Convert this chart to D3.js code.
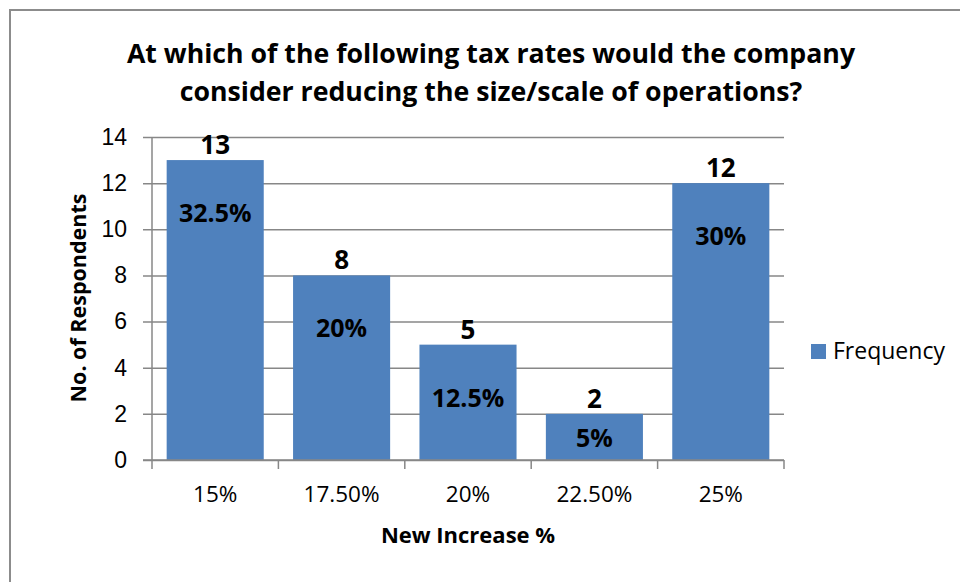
<!DOCTYPE html>
<html>
<head>
<meta charset="utf-8">
<script src="https://cdn.jsdelivr.net/npm/d3@7"></script>
<style>
  html, body { margin: 0; padding: 0; background: #fff; }
  svg { display: block; font-family: "Open Sans", "Noto Sans", sans-serif; }
</style>
</head>
<body>
<svg id="chart" width="960" height="582"></svg>
<script>
// Survey responses: tax rate at which the company would scale down
const categories = ["15%", "17.50%", "20%", "22.50%", "25%"];
const frequency = [13, 8, 5, 2, 12];
const shares = ["32.5%", "20%", "12.5%", "5%", "30%"];
const yTicks = [0, 2, 4, 6, 8, 10, 12, 14];
const titleLines = [
  "At which of the following tax rates would the company",
  "consider reducing the size/scale of operations?"
];
const seriesName = "Frequency";
const xTitle = "New Increase %";
const yTitle = "No. of Respondents";

const svg = d3.select("#chart");
const barColor = "#4F81BD";
const gridColor = "#878787";

const plot = { left: 152, right: 784, top: 137, bottom: 460 };

// outer chart frame (runs past the right and bottom edges)
svg.append("rect")
  .attr("x", 10).attr("y", 10)
  .attr("width", 1200).attr("height", 1200)
  .attr("fill", "none")
  .attr("stroke", "#8c8c8c")
  .attr("stroke-width", 2);

const x = d3.scaleBand()
  .domain(categories)
  .range([plot.left, plot.right])
  .paddingInner(0.232)
  .paddingOuter(0.116);

const y = d3.scaleLinear()
  .domain([0, 14])
  .range([plot.bottom, plot.top]);

// title
svg.append("g")
  .selectAll("text")
  .data(titleLines)
  .join("text")
  .attr("x", 491)
  .attr("y", (d, i) => 63 + i * 38)
  .attr("text-anchor", "middle")
  .attr("font-size", 26.7)
  .attr("font-weight", 700)
  .attr("fill", "#000")
  .text(d => d);

// horizontal gridlines with left tick marks
const yAxis = d3.axisLeft(y)
  .tickValues(yTicks)
  .tickSize(plot.right - plot.left + 9)
  .tickSizeOuter(0)
  .tickFormat(d3.format("d"));

const gy = svg.append("g")
  .attr("transform", `translate(${plot.right},0)`)
  .call(yAxis);
gy.select(".domain").remove();
gy.selectAll(".tick line")
  .attr("stroke", gridColor)
  .attr("stroke-width", 1.5);
gy.selectAll(".tick text")
  .attr("x", -(plot.right - plot.left) - 25)
  .attr("font-size", 23)
  .attr("fill", "#000");

// vertical axis line
svg.append("line")
  .attr("x1", plot.left).attr("x2", plot.left)
  .attr("y1", plot.top).attr("y2", plot.bottom)
  .attr("stroke", gridColor)
  .attr("stroke-width", 1.5);

// bars
svg.append("g")
  .selectAll("rect")
  .data(frequency)
  .join("rect")
  .attr("x", (d, i) => x(categories[i]))
  .attr("y", d => y(d))
  .attr("width", x.bandwidth())
  .attr("height", d => y(0) - y(d))
  .attr("fill", barColor);

// horizontal axis with category boundary ticks
const gx = svg.append("g")
  .attr("transform", `translate(0,${plot.bottom})`);
gx.append("line")
  .attr("x1", plot.left - 9).attr("x2", plot.right)
  .attr("stroke", gridColor)
  .attr("stroke-width", 1.5);
const boundaries = categories.map(c => x(c) - x.step() * x.paddingInner() / 2)
  .concat([plot.right]);
boundaries[0] = plot.left;
gx.selectAll("line.bound")
  .data(boundaries)
  .join("line")
  .attr("class", "bound")
  .attr("x1", d => d).attr("x2", d => d)
  .attr("y1", 0).attr("y2", 9)
  .attr("stroke", gridColor)
  .attr("stroke-width", 1.5);
gx.selectAll("text")
  .data(categories)
  .join("text")
  .attr("x", d => x(d) + x.bandwidth() / 2)
  .attr("y", 42)
  .attr("text-anchor", "middle")
  .attr("font-size", 22.5)
  .attr("fill", "#000")
  .text(d => d);

// value labels above bars
svg.append("g")
  .selectAll("text")
  .data(frequency)
  .join("text")
  .attr("x", (d, i) => x(categories[i]) + x.bandwidth() / 2)
  .attr("y", d => y(d) - 6)
  .attr("text-anchor", "middle")
  .attr("font-size", 26)
  .attr("font-weight", 700)
  .attr("fill", "#000")
  .text(d => d);

// share labels inside bars
svg.append("g")
  .selectAll("text")
  .data(shares)
  .join("text")
  .attr("x", (d, i) => x(categories[i]) + x.bandwidth() / 2)
  .attr("y", (d, i) => {
    const h = y(0) - y(frequency[i]);
    return y(frequency[i]) + Math.min(62, h / 2 + 10);
  })
  .attr("text-anchor", "middle")
  .attr("font-size", 25)
  .attr("font-weight", 700)
  .attr("fill", "#000")
  .text(d => d);

// axis titles
svg.append("text")
  .attr("x", 468)
  .attr("y", 543)
  .attr("text-anchor", "middle")
  .attr("font-size", 22)
  .attr("font-weight", 700)
  .attr("fill", "#000")
  .text(xTitle);

svg.append("text")
  .attr("transform", "translate(86,298) rotate(-90)")
  .attr("text-anchor", "middle")
  .attr("font-size", 21.5)
  .attr("font-weight", 700)
  .attr("fill", "#000")
  .text(yTitle);

// legend
const legend = svg.append("g").attr("transform", "translate(811,344)");
legend.append("rect")
  .attr("width", 15).attr("height", 15)
  .attr("fill", barColor);
legend.append("text")
  .attr("x", 22).attr("y", 15)
  .attr("font-size", 23)
  .attr("fill", "#000")
  .text(seriesName);
</script>
</body>
</html>
